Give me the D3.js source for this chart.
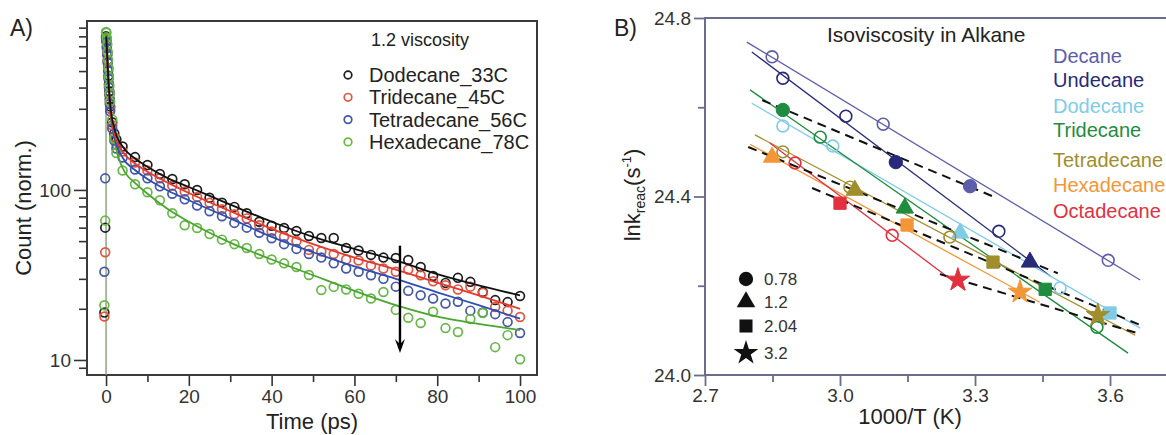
<!DOCTYPE html>
<html><head><meta charset="utf-8">
<script src="https://cdn.jsdelivr.net/npm/d3@7"></script>
<style>
body{margin:0;background:#fff}
svg{display:block}
text{font-family:"Liberation Sans",Arial,Helvetica,sans-serif}
</style>
</head><body>
<svg id="c" width="1166" height="435"></svg>
<script>
// ---------------- Panel A data ----------------
const seriesA = ["Dodecane_33C","Tridecane_45C","Tetradecane_56C","Hexadecane_78C"];
const timeA = [-0.4,-0.2,0,0.1,0.2,0.3,0.4,0.5,0.6,0.7,0.8,0.9,1.0,1.5,2.0,2.5,
  4,7,10,13,16,19,22,25,28,31,34,37,40,43,46,49,52,55,58,61,64,67,70,73,76,79,82,85,88,91,94,97,100];
const dodecaneA = [19,60,800,760,700,640,580,520,470,420,380,340,310,250,215,198,
  180,156,140,124,116,108,100,90,84,79.5,73,65,61.5,59.7,57.4,53.6,52.2,52.2,45.6,44,41.5,40,39.8,38.7,35.2,31.2,28.4,30.4,28.8,25.1,22.5,21.9,23.8];
const tridecaneA = [18,43,790,750,690,630,570,510,460,410,370,330,300,240,205,185,
  168,145,130,117,106,98,91,84,77,72,68,62,57,53,50,44.4,43.5,42,39,38.5,36,34.5,33,34,31.5,29,27.5,26,27,24.8,20.5,19.5,17.9];
const tetradecaneA = [33,117,780,740,680,620,560,500,450,400,360,320,290,230,195,175,
  155,132,117,105,95,88,81,75,70,64,60,56,52,48,45,42,40,37,34.5,33,31.5,30,27,25.5,24,23,21.5,22,19.5,19,18.6,16.7,14.4];
const hexadecaneA = [21,66,850,840,780,720,650,580,520,460,410,370,330,260,200,165,
  130,108,97,87,73,62,59.7,55,51,48,45.6,42,39,37,35.2,31.6,25.8,26.9,26,24.5,23,25.1,19.7,17.7,16.5,19.2,15.4,14.6,17.4,18.9,11.9,14,10.1];
const fitTimeA = [0.05,0.3,0.6,1,2,4,7,10,15,20,30,40,50,60,70,80,90,100];
const dodecaneFit = [800,600,430,320,230,180,153,137,117,104,82,65,53,45,38.5,32,27.5,24];
const tridecaneFit = [790,590,420,305,215,168,143,128,110,96,75,59,48,40,34,28.5,24,20];
const tetradecaneFit = [780,580,410,295,205,155,131,116,99,87,68,53,43,35.5,30,25,21,17.5];
const hexadecaneFit = [850,650,460,330,200,135,110,95,77,65,49,39,31.5,25.5,21,18,16.3,15];
const riseA = {t:0, from:8, to:850};
const xTicksA = [0,20,40,60,80,100];
const xMinorA = [10,30,50,70,90];
const yTicksA = [10,100];
const yMinorA = [9,20,30,40,50,60,70,80,90,200,300,400,500,600,700,800,900];
const arrowA = {t:71, from:47, to:11};

// ---------------- Panel B data ----------------
const solventsB = ["Decane","Undecane","Dodecane","Tridecane","Tetradecane","Hexadecane","Octadecane"];
const viscosB = ["0.78","1.2","2.04","3.2"];
// points: x = 1000/T, y = ln k, m = marker ("o" open, or viscosity label)
const decaneB = [{x:2.849,y:24.713,m:"o"},{x:3.096,y:24.562,m:"o"},{x:3.289,y:24.423,m:"0.78"},{x:3.596,y:24.257,m:"o"}];
const undecaneB = [{x:2.873,y:24.665,m:"o"},{x:3.013,y:24.580,m:"o"},{x:3.124,y:24.477,m:"0.78"},{x:3.353,y:24.322,m:"o"},{x:3.422,y:24.253,m:"1.2"}];
const dodecaneB = [{x:2.873,y:24.558,m:"o"},{x:2.984,y:24.513,m:"o"},{x:3.267,y:24.318,m:"1.2"},{x:3.489,y:24.195,m:"o"},{x:3.600,y:24.139,m:"2.04"}];
const tridecaneB = [{x:2.873,y:24.594,m:"0.78"},{x:2.956,y:24.533,m:"o"},{x:3.144,y:24.374,m:"1.2"},{x:3.456,y:24.192,m:"2.04"},{x:3.571,y:24.107,m:"o"}];
const tetradecaneB = [{x:2.873,y:24.500,m:"o"},{x:3.022,y:24.421,m:"o"},{x:3.033,y:24.414,m:"1.2"},{x:3.244,y:24.309,m:"o"},{x:3.340,y:24.253,m:"2.04"},{x:3.573,y:24.134,m:"3.2"}];
const hexadecaneB = [{x:2.849,y:24.488,m:"1.2"},{x:3.149,y:24.336,m:"2.04"},{x:3.400,y:24.186,m:"3.2"}];
const octadecaneB = [{x:2.900,y:24.475,m:"o"},{x:3.000,y:24.385,m:"2.04"},{x:3.116,y:24.313,m:"o"},{x:3.262,y:24.213,m:"3.2"}];
// linear fit segments per solvent [x0,y0,x1,y1]
const fitLinesB = [[2.793,24.746,3.667,24.213],[2.804,24.724,3.467,24.222],[2.804,24.609,3.667,24.105],
  [2.800,24.639,3.640,24.049],[2.811,24.538,3.656,24.089],[2.800,24.517,3.444,24.163],[2.844,24.520,3.278,24.190]];
// isoviscosity dashed lines [x0,y0,x1,y1]
const isoLinesB = [[2.827,24.616,3.338,24.401],[2.796,24.511,3.484,24.228],[2.938,24.419,3.667,24.112],[3.222,24.226,3.660,24.094]];
const xTicksB = [2.7,3.0,3.3,3.6];
const xMinorB = [2.85,3.15,3.45];
const yTicksB = [24.0,24.4,24.8];
const yMinorB = [24.2,24.6];

// ---------------- styles ----------------
const colA = ["#1e1e1e","#e2553f","#4558a8","#68b848"];
const fitColA = ["#111111","#e23a30","#2f4fb0","#4aa532"];
const colB = ["#5d5daa","#262a78","#80cce8","#1f8c3f","#a08e2c","#f39638","#e2303f"];

const svg = d3.select("#c");

// ================= PANEL A =================
const A = {l:87, r:537, t:21, b:375};
const xA = d3.scaleLinear().domain([-4.6,104.1]).range([A.l, A.r]);
const yA = d3.scaleLog().domain([8.16, 985]).range([A.b, A.t]);
const gA = svg.append("g");
gA.append("clipPath").attr("id","clipA").append("rect")
  .attr("x",A.l).attr("y",A.t).attr("width",A.r-A.l).attr("height",A.b-A.t);

const axA = "#333";
function styleAxis(g, col, w){
  g.select(".domain").remove();
  g.selectAll(".tick line").attr("stroke",col).attr("stroke-width",w);
  g.selectAll(".tick text").attr("fill","#333").style("font-family","'Liberation Sans',Arial,sans-serif");
}
let g;
g = gA.append("g").attr("transform",`translate(0,${A.b})`)
  .call(d3.axisBottom(xA).tickValues(xTicksA).tickSize(11).tickPadding(4).tickFormat(d3.format("d")));
styleAxis(g, axA, 1.6); g.selectAll(".tick text").attr("font-size",19);
g = gA.append("g").attr("transform",`translate(0,${A.b})`)
  .call(d3.axisBottom(xA).tickValues(xMinorA).tickSize(7).tickFormat(""));
styleAxis(g, axA, 1.6);
g = gA.append("g").attr("transform",`translate(${A.l},0)`)
  .call(d3.axisLeft(yA).tickValues(yTicksA).tickSize(13).tickPadding(3).tickFormat(d3.format("d")));
styleAxis(g, axA, 1.6); g.selectAll(".tick text").attr("font-size",19);
g = gA.append("g").attr("transform",`translate(${A.l},0)`)
  .call(d3.axisLeft(yA).tickValues(yMinorA).tickSize(8).tickFormat(""));
styleAxis(g, axA, 1.6);
gA.append("rect").attr("x",A.l).attr("y",A.t).attr("width",A.r-A.l).attr("height",A.b-A.t)
  .attr("fill","none").attr("stroke","#3a3a3a").attr("stroke-width",2);

const plotA = gA.append("g").attr("clip-path","url(#clipA)");
const dataA = [dodecaneA, tridecaneA, tetradecaneA, hexadecaneA];
const fitsA = [dodecaneFit, tridecaneFit, tetradecaneFit, hexadecaneFit];
// rise line at time zero
plotA.append("line").attr("x1",xA(riseA.t)).attr("x2",xA(riseA.t))
  .attr("y1",yA(riseA.from)).attr("y2",yA(riseA.to)).attr("stroke","#7d9a70").attr("stroke-width",1.3);
dataA.forEach((vals,i)=>{
  plotA.append("g").selectAll("circle").data(vals).join("circle")
    .attr("cx",(d,j)=>xA(timeA[j])).attr("cy",d=>yA(d)).attr("r",4.4)
    .attr("fill","none").attr("stroke",colA[i]).attr("stroke-width",1.7);
});
const lineA = d3.line().x((d,j)=>xA(fitTimeA[j])).y(d=>yA(d)).curve(d3.curveMonotoneX);
[3,2,1,0].forEach(i=>{
  plotA.append("path").attr("d",lineA(fitsA[i])).attr("fill","none")
    .attr("stroke",fitColA[i]).attr("stroke-width",1.8);
});
// arrow
plotA.append("line").attr("x1",xA(arrowA.t)).attr("x2",xA(arrowA.t))
  .attr("y1",yA(arrowA.from)).attr("y2",yA(arrowA.to)-8).attr("stroke","#000").attr("stroke-width",2.4);
plotA.append("path").attr("d",`M${xA(arrowA.t)-5},${yA(arrowA.to)-14} L${xA(arrowA.t)},${yA(arrowA.to)} L${xA(arrowA.t)+5},${yA(arrowA.to)-14} L${xA(arrowA.t)},${yA(arrowA.to)-9}Z`)
  .attr("fill","#000");

// labels A
gA.append("text").attr("x",10).attr("y",36).attr("font-size",23).attr("fill","#222").text("A)");
gA.append("text").attr("x",(A.l+A.r)/2).attr("y",429).attr("text-anchor","middle")
  .attr("font-size",22).attr("fill","#222").text("Time (ps)");
gA.append("text").attr("transform",`translate(31,${(A.t+A.b)/2+10}) rotate(-90)`).attr("text-anchor","middle")
  .attr("font-size",22).attr("fill","#222").text("Count (norm.)");
// legend A
gA.append("text").attr("x",371).attr("y",46).attr("font-size",18).attr("fill","#222").text("1.2 viscosity");
seriesA.forEach((s,i)=>{
  const yy = 75 + i*22.3;
  gA.append("circle").attr("cx",348).attr("cy",yy).attr("r",3.8).attr("fill","none")
    .attr("stroke",colA[i]).attr("stroke-width",1.7);
  gA.append("text").attr("x",369).attr("y",yy+7).attr("font-size",20).attr("fill","#222").text(s);
});

// ================= PANEL B =================
const B = {l:705, r:1166, t:18, b:375};
const xB = d3.scaleLinear().domain([2.7, 3.7244]).range([B.l, B.r]);
const yB = d3.scaleLinear().domain([24.0, 24.8]).range([B.b, B.t]);
const gB = svg.append("g");
const axB = "#6c6c8c";
g = gB.append("g").attr("transform",`translate(0,${B.b})`)
  .call(d3.axisBottom(xB).tickValues(xTicksB).tickSize(11).tickPadding(3).tickFormat(d3.format(".1f")));
styleAxis(g, axB, 1.8); g.selectAll(".tick text").attr("font-size",19);
g = gB.append("g").attr("transform",`translate(0,${B.b})`)
  .call(d3.axisBottom(xB).tickValues(xMinorB).tickSize(7).tickFormat(""));
styleAxis(g, axB, 1.8);
g = gB.append("g").attr("transform",`translate(${B.l},0)`)
  .call(d3.axisLeft(yB).tickValues(yTicksB).tickSize(11).tickPadding(3).tickFormat(d3.format(".1f")));
styleAxis(g, axB, 1.8); g.selectAll(".tick text").attr("font-size",19);
g = gB.append("g").attr("transform",`translate(${B.l},0)`)
  .call(d3.axisLeft(yB).tickValues(yMinorB).tickSize(7).tickFormat(""));
styleAxis(g, axB, 1.8);
gB.append("path").attr("d",`M${B.r},${B.t} H${B.l} V${B.b} H${B.r}`).attr("fill","none")
  .attr("stroke",axB).attr("stroke-width",2);

// fit lines
fitLinesB.forEach((f,i)=>{
  gB.append("line").attr("x1",xB(f[0])).attr("y1",yB(f[1])).attr("x2",xB(f[2])).attr("y2",yB(f[3]))
    .attr("stroke",colB[i]).attr("stroke-width",1.3);
});
// iso lines
isoLinesB.forEach(f=>{
  gB.append("line").attr("x1",xB(f[0])).attr("y1",yB(f[1])).attr("x2",xB(f[2])).attr("y2",yB(f[3]))
    .attr("stroke","#111").attr("stroke-width",2).attr("stroke-dasharray","9,6");
});
const symType = {"o":d3.symbolCircle,"0.78":d3.symbolCircle,"1.2":d3.symbolTriangle,"2.04":d3.symbolSquare,"3.2":d3.symbolStar};
const symSize = {"o":110,"0.78":140,"1.2":130,"2.04":150,"3.2":170};
const ptsB = [decaneB, undecaneB, dodecaneB, tridecaneB, tetradecaneB, hexadecaneB, octadecaneB];
ptsB.forEach((pts,i)=>{
  gB.append("g").selectAll("path").data(pts).join("path")
    .attr("transform",d=>`translate(${xB(d.x)},${yB(d.y)})`)
    .attr("d",d=>d3.symbol().type(symType[d.m]).size(symSize[d.m])())
    .attr("fill",d=>d.m==="o" ? "none" : colB[i])
    .attr("stroke",colB[i]).attr("stroke-width",d=>d.m==="o"?1.6:1);
});

// labels B
gB.append("text").attr("x",614).attr("y",36).attr("font-size",23).attr("fill","#222").text("B)");
gB.append("text").attr("x",827).attr("y",42).attr("font-size",21).attr("fill","#222").text("Isoviscosity in Alkane");
gB.append("text").attr("x",910).attr("y",424).attr("text-anchor","middle").attr("font-size",22).attr("fill","#222").text("1000/T (K)");
const yl = gB.append("text").attr("transform",`translate(640,${195}) rotate(-90)`).attr("text-anchor","middle")
  .attr("font-size",22).attr("fill","#222");
yl.append("tspan").text("lnk");
yl.append("tspan").attr("font-size",14).attr("dy",5).text("reac");
yl.append("tspan").attr("dy",-5).text("(s");
yl.append("tspan").attr("font-size",13).attr("dy",-9).text("-1");
yl.append("tspan").attr("dy",9).text(")");
const legY = [63,87,113,137,167,192,218];
solventsB.forEach((s,i)=>{
  gB.append("text").attr("x",1053).attr("y",legY[i]).attr("font-size",20).attr("fill",colB[i]).text(s);
});
viscosB.forEach((v,i)=>{
  const yy = [279,302,326,353][i];
  gB.append("path").attr("transform",`translate(746,${yy})`)
    .attr("d",d3.symbol().type(symType[v]).size(symSize[v]+20)()).attr("fill","#111");
  gB.append("text").attr("x",764).attr("y",yy+6).attr("font-size",17).attr("fill","#333").text(v);
});
</script>
</body></html>
